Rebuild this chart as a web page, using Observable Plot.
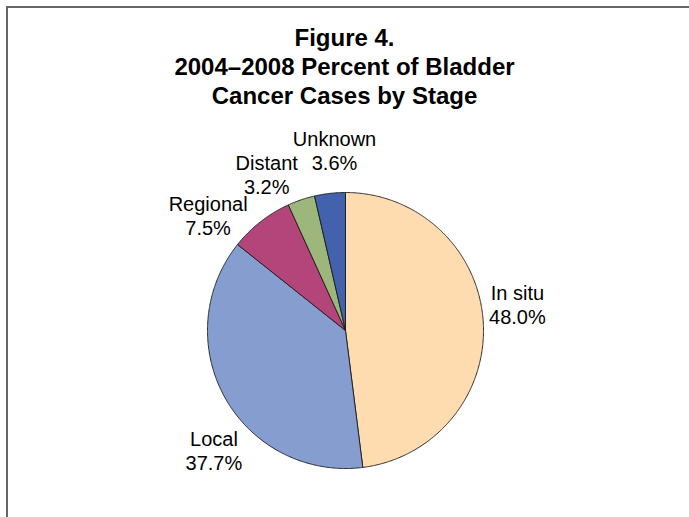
<!DOCTYPE html>
<html>
<head>
<meta charset="utf-8">
<script src="https://cdn.jsdelivr.net/npm/d3@7"></script>
<script src="https://cdn.jsdelivr.net/npm/@observablehq/plot@0.6"></script>
<style>
  html, body { margin: 0; padding: 0; background: #fff; overflow: hidden; }
  #wrap { position: relative; width: 689px; height: 517px; overflow: hidden; background: #fff; }
  #frame { position: absolute; left: 6px; top: 6px; width: 760px; height: 560px;
           border-top: 2px solid #666; border-left: 2px solid #666; }
  #title { position: absolute; left: 0; width: 689px; top: 23px; text-align: center;
           font-family: "Liberation Sans", Arial, sans-serif; font-weight: bold;
           font-size: 24px; line-height: 29px; color: #000; }
  #chart { position: absolute; left: 0; top: 120px; }
</style>
</head>
<body>
<div id="wrap">
  <div id="frame"></div>
  <div id="title">Figure 4.<br>2004–2008 Percent of Bladder<br>Cancer Cases by Stage</div>
  <div id="chart"></div>
</div>
<script>
// Data
const stages = ["In situ", "Local", "Regional", "Distant", "Unknown"];
const percents = [48.0, 37.7, 7.5, 3.2, 3.6];
const colors = ["#FFDCB0", "#869DD0", "#B4457B", "#9CB67C", "#4262AE"];

// Label layout tweaks (Excel-style outside labels)
const labelNudgeDeg = [-5, -13, -12, -8, 3];
const labelRadius = [1.26, 1.29, 1.30, 1.27, 1.31];

const W = 689, H = 397;
const R = 138;            // pixels per data unit (pie radius)
const cx = 345, cy = 210; // pie centre in svg pixels

const arcs = d3.pie().sort(null).value(d => d).startAngle(0).endAngle(2 * Math.PI)(percents);

const slices = arcs.map((a, i) => {
  const pts = [{x: 0, y: 0}];
  const n = Math.max(4, Math.ceil((a.endAngle - a.startAngle) / (Math.PI / 360)));
  for (let k = 0; k <= n; k++) {
    const t = a.startAngle + (a.endAngle - a.startAngle) * k / n;
    pts.push({x: Math.sin(t), y: Math.cos(t)});
  }
  pts.push({x: 0, y: 0});
  return {stage: stages[i], color: colors[i], pts};
});

const labels = arcs.map((a, i) => {
  const mid = (a.startAngle + a.endAngle) / 2 + labelNudgeDeg[i] * Math.PI / 180;
  return {
    x: labelRadius[i] * Math.sin(mid),
    y: labelRadius[i] * Math.cos(mid),
    text: stages[i] + "\n" + percents[i].toFixed(1) + "%"
  };
});

const plot = Plot.plot({
  width: W,
  height: H,
  margin: 0,
  style: {background: "transparent", overflow: "visible"},
  x: {domain: [-cx / R, (W - cx) / R], range: [0, W], axis: null},
  y: {domain: [-(H - cy) / R, cy / R], range: [H, 0], axis: null},
  marks: [
    ...slices.map(s => Plot.line(s.pts, {
      x: "x", y: "y", fill: s.color, stroke: "#1a1a1a", strokeWidth: 0.9,
      strokeLinejoin: "round", curve: "linear"
    })),
    Plot.text(labels, {
      x: "x", y: "y", text: "text",
      fontSize: 20, lineHeight: 1.2, textAnchor: "middle", lineAnchor: "middle",
      fill: "#000", fontFamily: "Liberation Sans, Arial, sans-serif"
    })
  ]
});
document.getElementById("chart").appendChild(plot);
</script>
</body>
</html>
